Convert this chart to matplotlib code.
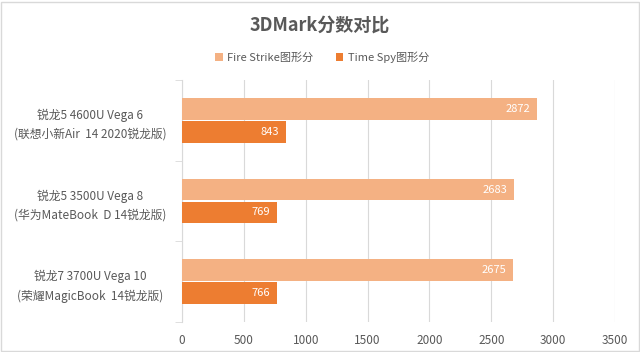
import matplotlib
matplotlib.use("Agg")
import matplotlib.pyplot as plt
from matplotlib.patches import Rectangle
import numpy as np

plt.rcParams['font.family'] = ['Noto Sans CJK SC', 'DejaVu Sans']

categories = ['锐龙5 4600U Vega 6\n(联想小新Air  14 2020锐龙版)',
              '锐龙5 3500U Vega 8\n(华为MateBook  D 14锐龙版)',
              '锐龙7 3700U Vega 10\n(荣耀MagicBook  14锐龙版)']
fire_strike = [2872, 2683, 2675]
time_spy = [843, 769, 766]
series_names = ['Fire Strike图形分', 'Time Spy图形分']
xticks = [0, 500, 1000, 1500, 2000, 2500, 3000, 3500]

c_fs = '#F4B183'
c_ts = '#ED7D31'
gray = '#595959'

fig = plt.figure(figsize=(6.4, 3.52), dpi=100)
ax = fig.add_axes([182/640, 1-322/352, (615-182)/640, (322-80)/352])

y = np.arange(len(categories))
h = 0.27
off = 0.142
b1 = ax.barh(y - off, fire_strike, height=h, color=c_fs, label=series_names[0], zorder=3)
b2 = ax.barh(y + off, time_spy, height=h, color=c_ts, label=series_names[1], zorder=3)

for bars, vals in [(b1, fire_strike), (b2, time_spy)]:
    for r, v in zip(bars, vals):
        ax.text(v - 55, r.get_y() + r.get_height()/2, str(v), ha='right', va='center',
                color='white', fontsize=8, zorder=4)

ax.set_xlim(0, 3500)
ax.set_ylim(len(categories) - 0.5, -0.5)
ax.set_xticks(xticks)
ax.set_xticklabels([str(t) for t in xticks], color=gray, fontsize=8.5)
ax.tick_params(axis='x', length=0, pad=9)
ax.grid(axis='x', color='#d9d9d9', lw=0.8, zorder=0)

ax.set_yticks(y)
ax.set_yticklabels(categories, fontsize=8.5, color=gray, ha='center', linespacing=1.6)
ax.tick_params(axis='y', which='major', length=0, pad=66)
ax.set_yticks(np.arange(-0.5, len(categories), 1), minor=True)
ax.tick_params(axis='y', which='minor', length=5, color='#d9d9d9')

for s in ['top', 'right', 'bottom']:
    ax.spines[s].set_visible(False)
ax.spines['left'].set_color('#d9d9d9')

fig.text(0.5, 1-25/352, '3DMark分数对比', ha='center', va='center', fontsize=13,
         fontweight='bold', color=gray)
fig.legend(handles=[b1, b2], loc='center', bbox_to_anchor=(322/640, 1-57/352), ncol=2,
           frameon=False, fontsize=8, labelcolor=gray, handlelength=0.7, handleheight=0.7,
           columnspacing=2.0, handletextpad=0.4)

fig.patches.append(Rectangle((0.002, 0.004), 0.996, 0.99, transform=fig.transFigure,
                             fill=False, edgecolor='#d9d9d9', lw=1))

fig.savefig('out.png', dpi=100)
